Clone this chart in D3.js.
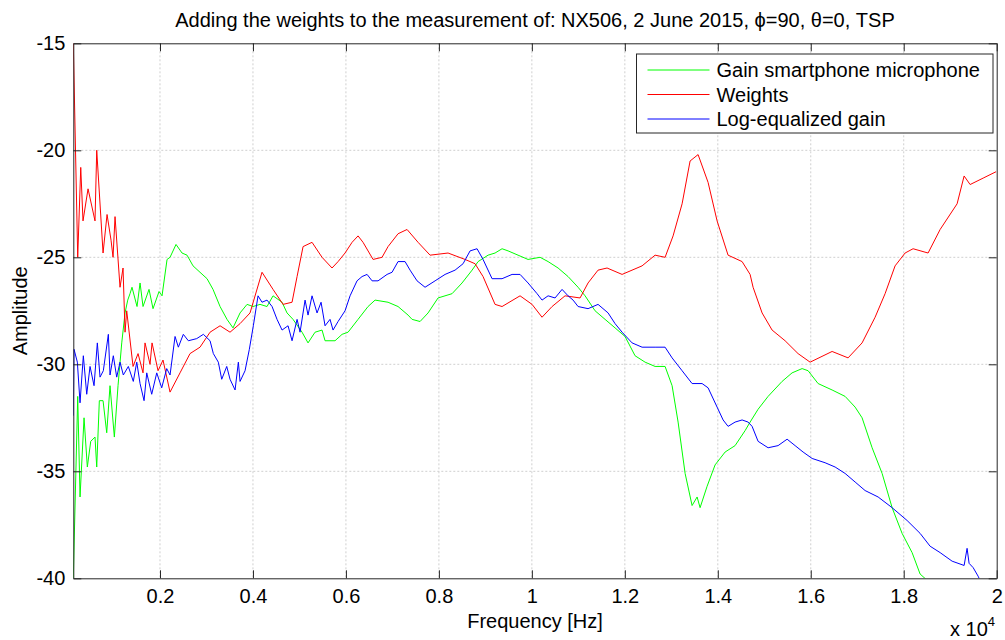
<!DOCTYPE html>
<html>
<head>
<meta charset="utf-8">
<script src="https://cdn.jsdelivr.net/npm/d3@7"></script>
<style>
  body { margin: 0; background: #fff; }
  text { font-family: "Liberation Sans", Arial, sans-serif; fill: #000; }
</style>
</head>
<body>
<div id="chart"></div>
<script>
const title = "Adding the weights to the measurement of: NX506, 2 June 2015, \u03d5=90, \u03b8=0, TSP";
const seriesNames = ["Gain smartphone microphone", "Weights", "Log-equalized gain"];
const seriesColors = ["#00ff00", "#ff0000", "#0000ff"];

const xTicks = [2000, 4000, 6000, 8000, 10000, 12000, 14000, 16000, 18000, 20000];
const xTickLabels = ["0.2", "0.4", "0.6", "0.8", "1", "1.2", "1.4", "1.6", "1.8", "2"];
const yTicks = [-40, -35, -30, -25, -20, -15];

// green: gain of the smartphone microphone
const gainFreq = [135, 230, 280, 366, 437, 510, 602, 639, 695, 775, 854, 925, 1018, 1097, 1177, 1248, 1306, 1355, 1398, 1506,
  1571, 1635, 1764, 1850, 1979, 2044, 2152, 2216, 2345, 2474, 2582, 2711, 2861, 3012, 3141, 3292, 3442, 3571, 3722, 3873,
  4002, 4152, 4303, 4432, 4626, 4733, 4862, 5056, 5185, 5336, 5486, 5551, 5766, 5917, 6046, 6261, 6476, 6627, 6906, 7121,
  7337, 7423, 7595, 7767, 7982, 8283, 8498, 8714, 8843, 9058, 9208, 9359, 9488, 9703, 9918, 10177, 10349, 10564, 10779, 10994,
  11145, 11360, 11575, 11790, 12005, 12220, 12436, 12651, 12866, 13017, 13146, 13297, 13447, 13555, 13619, 13770, 13942, 14157, 14372, 14587,
  14695, 14867, 15082, 15383, 15598, 15814, 15943, 16158, 16459, 16739, 16954, 17104, 17320, 17535, 17750, 17965, 18180, 18352, 18610];
const gainDb = [-40, -31.5, -36.2, -32.5, -34.8, -33.6, -33.4, -34.8, -31.7, -31.7, -33.2, -31, -33.4, -31, -29, -27.6, -27, -26.7, -26.4, -27.3,
  -26.2, -27.3, -26.5, -27.4, -26.6, -26.8, -25.1, -25, -24.4, -24.8, -24.9, -25.4, -25.7, -26, -26.5, -27.3, -27.9, -28.3, -27.6, -27.2,
  -27.3, -27.2, -27.3, -26.8, -27.1, -27.6, -27.9, -28.5, -29, -28.5, -28.4, -28.9, -28.9, -28.6, -28.5, -27.9, -27.3, -27, -27.1, -27.3,
  -27.7, -27.9, -28, -27.6, -26.9, -26.7, -26.2, -25.6, -25.2, -24.9, -24.8, -24.6, -24.7, -24.9, -25.1, -25, -25.2, -25.5, -25.9, -26.4,
  -26.8, -27.5, -27.9, -28.3, -28.7, -29.6, -29.9, -30.1, -30.1, -31, -32.7, -35.1, -36.6, -36.2, -36.7, -35.7, -34.7, -34.1, -33.8, -33.1,
  -32.7, -32.1, -31.5, -30.8, -30.4, -30.2, -30.3, -30.9, -31.2, -31.5, -32, -32.5, -33.9, -35.1, -36.7, -37.9, -38.8, -39.8, -40.3];

// red: weights
const weightFreq = [135, 230, 295, 344, 452, 602, 639, 775, 861, 947, 990, 1033, 1140, 1205, 1248, 1284, 1420, 1528, 1635, 1678,
  1786, 1829, 1958, 2065, 2216, 2431, 2646, 2861, 3077, 3292, 3507, 3722, 3937, 4195, 4432, 4647, 4841, 4949, 5078, 5271,
  5486, 5701, 5831, 5981, 6132, 6261, 6368, 6584, 6777, 6906, 7121, 7315, 7552, 7810, 8197, 8563, 8778, 8950, 9208, 9359,
  9746, 10004, 10219, 10435, 10714, 11037, 11209, 11424, 11618, 11941, 12371, 12651, 12866, 13038, 13232, 13404, 13576, 13791, 13985, 14221,
  14523, 14695, 14759, 14953, 15168, 15448, 15727, 15986, 16459, 16803, 17104, 17384, 17599, 17814, 18029, 18201, 18524, 18783, 19148, 19299,
  19428, 19708, 19987];
const weightDb = [-15, -25, -20.8, -23.3, -21.8, -23.3, -20, -24.8, -23, -24.2, -25, -23.1, -26.4, -25.5, -28.5, -27.5, -30.1, -29.5, -30.4, -29,
  -30, -29, -30.3, -29.8, -31.3, -30.4, -29.5, -29.2, -28.5, -28.2, -28.5, -28.1, -27.6, -25.7, -26.5, -27.2, -27.1, -25.9, -24.5, -24.3,
  -25, -25.5, -25.2, -24.8, -24.3, -24, -24.3, -25.1, -25, -24.5, -23.9, -23.7, -24.3, -24.9, -24.8, -25.1, -25.3, -25.9, -27.2, -27.3,
  -26.8, -27.2, -27.8, -27.3, -26.8, -26.9, -26.2, -25.6, -25.5, -25.8, -25.4, -24.9, -25, -24, -22.5, -20.5, -20.2, -21.5, -23.3, -24.9,
  -25.2, -25.8, -26.4, -27.6, -28.4, -28.9, -29.5, -29.9, -29.4, -29.7, -29, -27.8, -26.7, -25.4, -24.8, -24.6, -24.8, -23.7, -22.5, -21.2,
  -21.6, -21.3, -21];

// blue: log-equalized gain
const eqFreq = [135, 151, 222, 280, 351, 424, 495, 581, 652, 710, 781, 889, 925, 996, 1069, 1140, 1211, 1319, 1426, 1500,
  1571, 1657, 1715, 1822, 1930, 2037, 2145, 2216, 2324, 2395, 2502, 2610, 2790, 2933, 3077, 3148, 3255, 3328, 3436, 3507,
  3615, 3686, 3722, 3830, 3922, 4008, 4109, 4195, 4303, 4411, 4518, 4626, 4755, 4841, 4949, 5013, 5121, 5185, 5271, 5379,
  5465, 5551, 5658, 5723, 5831, 5981, 6089, 6239, 6347, 6455, 6562, 6691, 6885, 6992, 7121, 7272, 7380, 7530, 7702, 7918,
  8133, 8348, 8520, 8671, 8821, 8950, 9144, 9359, 9574, 9746, 9918, 10112, 10219, 10349, 10499, 10650, 10779, 10887, 10994, 11209,
  11424, 11640, 11790, 11941, 12156, 12371, 12651, 12866, 13017, 13232, 13447, 13662, 13791, 13985, 14114, 14221, 14372, 14523, 14652, 14738,
  14867, 15082, 15297, 15491, 15663, 15835, 16029, 16308, 16524, 16739, 16954, 17169, 17449, 17750, 18073, 18352, 18567, 18783, 19041, 19299,
  19363, 19406, 19493, 19600, 19686];
const eqDb = [-32.4, -29.3, -29.9, -31.8, -29.6, -31.4, -30.1, -31, -29, -30.6, -30.3, -28.6, -30.5, -29.6, -30.6, -29.9, -30.5, -30.1, -30.8, -29.9,
  -30.9, -31.7, -30.4, -31.4, -30.4, -31.1, -30.2, -30.5, -28.7, -29.2, -28.6, -28.9, -28.8, -28.6, -28.9, -29.5, -29.9, -30.7, -30.1, -30.7,
  -31.2, -29.9, -30.8, -30.3, -29.3, -28.2, -26.8, -27.1, -27, -27.3, -27.9, -28.4, -28.2, -28.9, -27.9, -28.5, -27, -27.7, -26.8, -27.6,
  -27.1, -28.2, -27.9, -28.4, -28, -27.5, -26.8, -26.1, -25.9, -25.8, -26.1, -26.1, -25.8, -25.7, -25.2, -25.2, -25.6, -26.1, -26.4, -26.1,
  -25.8, -25.6, -25.3, -24.7, -24.6, -25.1, -26, -26, -25.8, -25.8, -26.2, -26.7, -27, -26.8, -26.9, -26.5, -26.8, -27, -27.3, -27.4,
  -27.2, -27.6, -28.1, -28.5, -29, -29.2, -29.2, -29.2, -29.7, -30.3, -30.9, -30.9, -31.1, -32, -32.6, -32.9, -32.7, -32.6, -32.7, -32.9,
  -33.6, -33.9, -33.8, -33.5, -33.8, -34.1, -34.4, -34.6, -34.8, -35.1, -35.5, -35.9, -36.2, -36.7, -37.3, -37.9, -38.5, -38.8, -39.2, -39.4,
  -38.6, -39.3, -39.5, -39.9, -40.3];

const width = 1005,
  height = 640;
const margin = { top: 43.3, right: 8.3, bottom: 61.7, left: 73.3 };
const innerW = width - margin.left - margin.right,
  innerH = height - margin.top - margin.bottom;
const fontSize = 20;

const x = d3.scaleLinear().domain([135, 20000]).range([margin.left, margin.left + innerW]);
const y = d3.scaleLinear().domain([-40, -15]).range([margin.top + innerH, margin.top]);

const svg = d3
  .select("#chart")
  .append("svg")
  .attr("width", width)
  .attr("height", height);

svg.append("rect").attr("width", width).attr("height", height).attr("fill", "#fff");

svg
  .append("clipPath")
  .attr("id", "plot-clip")
  .append("rect")
  .attr("x", margin.left)
  .attr("y", margin.top)
  .attr("width", innerW)
  .attr("height", innerH);

// dotted grid
const grid = svg.append("g").attr("stroke", "#cfcfcf").attr("stroke-dasharray", "2,2").attr("stroke-width", 1);
grid
  .selectAll("line.vx")
  .data(xTicks.slice(0, -1))
  .join("line")
  .attr("x1", (d) => x(d))
  .attr("x2", (d) => x(d))
  .attr("y1", margin.top)
  .attr("y2", margin.top + innerH);
grid
  .selectAll("line.hy")
  .data(yTicks.slice(1, -1))
  .join("line")
  .attr("class", "hy")
  .attr("x1", margin.left)
  .attr("x2", margin.left + innerW)
  .attr("y1", (d) => y(d))
  .attr("y2", (d) => y(d));

// curves
const series = [
  { freq: gainFreq, db: gainDb },
  { freq: weightFreq, db: weightDb },
  { freq: eqFreq, db: eqDb },
];
const line = d3
  .line()
  .x((d) => x(d[0]))
  .y((d) => y(d[1]));

svg
  .append("g")
  .attr("clip-path", "url(#plot-clip)")
  .selectAll("path")
  .data(series)
  .join("path")
  .attr("fill", "none")
  .attr("stroke", (d, i) => seriesColors[i])
  .attr("stroke-width", 1)
  .attr("stroke-linejoin", "round")
  .attr("d", (d) => line(d3.zip(d.freq, d.db)));

// axes, MATLAB style box with inward ticks
const axisColor = "#262626";
const bottomAxis = d3.axisBottom(x).tickValues(xTicks).tickFormat((d, i) => xTickLabels[i]).tickSizeInner(-8).tickSizeOuter(0).tickPadding(11);
const leftAxis = d3.axisLeft(y).tickValues(yTicks).tickFormat((d) => String(d)).tickSizeInner(-8).tickSizeOuter(0).tickPadding(8);
const topAxis = d3.axisTop(x).tickValues(xTicks).tickFormat("").tickSizeInner(-8).tickSizeOuter(0);
const rightAxis = d3.axisRight(y).tickValues(yTicks).tickFormat("").tickSizeInner(-8).tickSizeOuter(0);

const styleAxis = (g) => {
  g.select(".domain").attr("stroke", axisColor);
  g.selectAll(".tick line").attr("stroke", axisColor);
  g.selectAll(".tick text").attr("font-size", fontSize).attr("fill", "#000").attr("font-family", "Liberation Sans, Arial, sans-serif");
};

svg.append("g").attr("transform", `translate(0,${margin.top + innerH})`).call(bottomAxis).call(styleAxis);
svg.append("g").attr("transform", `translate(${margin.left},0)`).call(leftAxis).call(styleAxis);
svg.append("g").attr("transform", `translate(0,${margin.top})`).call(topAxis).call(styleAxis);
svg.append("g").attr("transform", `translate(${margin.left + innerW},0)`).call(rightAxis).call(styleAxis);

// titles
svg
  .append("text")
  .attr("x", margin.left + innerW / 2)
  .attr("y", 27)
  .attr("text-anchor", "middle")
  .attr("font-size", fontSize)
  .text(title);

svg
  .append("text")
  .attr("x", margin.left + innerW / 2)
  .attr("y", 628)
  .attr("text-anchor", "middle")
  .attr("font-size", fontSize)
  .text("Frequency [Hz]");

svg
  .append("text")
  .attr("transform", `translate(27,${margin.top + innerH / 2}) rotate(-90)`)
  .attr("text-anchor", "middle")
  .attr("font-size", fontSize)
  .text("Amplitude");

const expo = svg.append("text").attr("x", 950).attr("y", 636).attr("font-size", fontSize);
expo.append("tspan").text("x 10");
expo.append("tspan").attr("dy", -10).attr("font-size", 13).text("4");

// legend
const legend = svg.append("g").attr("transform", "translate(636.5,54)");
legend.append("rect").attr("width", 356.5).attr("height", 79).attr("fill", "#fff").attr("stroke", axisColor);
const rows = legend
  .selectAll("g.row")
  .data(seriesNames)
  .join("g")
  .attr("transform", (d, i) => `translate(0,${16 + i * 24.5})`);
rows
  .append("line")
  .attr("x1", 11)
  .attr("x2", 73)
  .attr("stroke", (d, i) => seriesColors[i]);
rows
  .append("text")
  .attr("x", 80)
  .attr("dy", "0.35em")
  .attr("font-size", fontSize)
  .text((d) => d);
</script>
</body>
</html>
